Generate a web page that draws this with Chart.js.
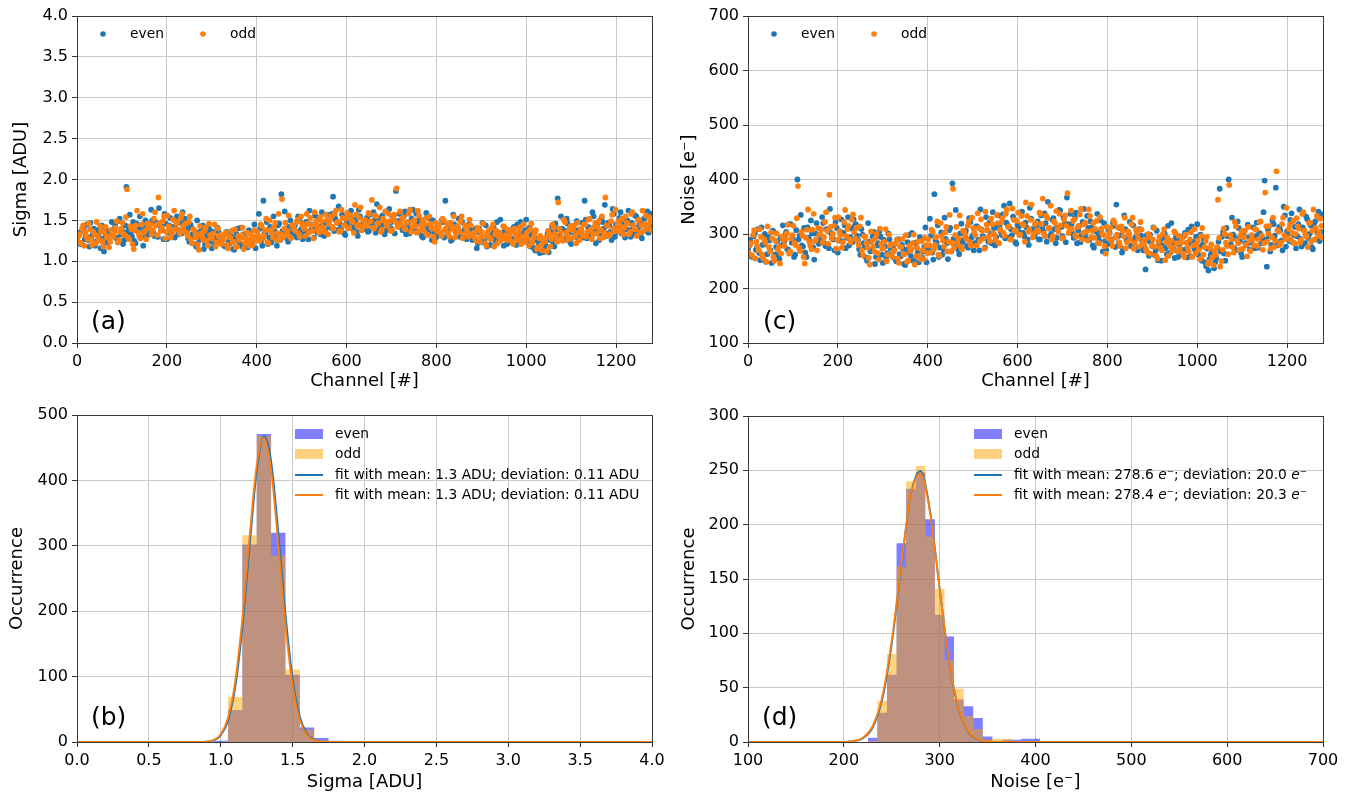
<!DOCTYPE html>
<html>
<head>
<meta charset="utf-8">
<title>Sigma and noise per channel</title>
<script src="https://cdn.jsdelivr.net/npm/chart.js@4.4.1/dist/chart.umd.min.js"></script>
<style>
  body { margin: 0; background: #fff; width: 1352px; height: 798px; position: relative; overflow: hidden; }
  canvas { position: absolute; }
</style>
</head>
<body>
<canvas id="chartA" width="670" height="400" style="left:0;top:0"></canvas>
<canvas id="chartC" width="682" height="400" style="left:670px;top:0"></canvas>
<canvas id="chartB" width="670" height="398" style="left:0;top:400px"></canvas>
<canvas id="chartD" width="682" height="398" style="left:670px;top:400px"></canvas>
<script>
// ---------------------------------------------------------------
// values read off the picture. channel scans are sampled in two passes,
// every 5th channel each (pass B sits between the points of pass A)
// ---------------------------------------------------------------
const channelStep = 5;

const sigmaEven = [
  1.28,1.35,1.22,1.41,1.31,1.26,1.47,1.33,1.19,1.38,1.29,1.44,1.12,1.36,1.25,1.32,
  1.34,1.45,1.29,1.52,1.38,1.26,1.91,1.41,1.33,1.48,1.22,1.39,1.55,1.31,1.43,1.36,
  1.42,1.63,1.35,1.48,1.30,1.45,1.38,1.58,1.27,1.44,1.36,1.51,1.40,1.33,1.47,1.60,
  1.52,1.37,1.24,1.41,1.30,1.18,1.35,1.27,1.44,1.21,1.33,1.39,1.16,1.30,1.25,1.36,
  1.24,1.31,1.18,1.35,1.22,1.28,1.14,1.33,1.25,1.41,1.20,1.29,1.17,1.36,1.26,1.45,
  1.30,1.58,1.25,1.74,1.34,1.21,1.42,1.28,1.37,1.19,1.46,1.82,1.31,1.39,1.24,1.50,
  1.36,1.44,1.29,1.52,1.40,1.33,1.48,1.27,1.45,1.38,1.56,1.35,1.42,1.60,1.31,1.47,
  1.49,1.41,1.79,1.52,1.38,1.46,1.57,1.34,1.50,1.43,1.62,1.39,1.48,1.31,1.55,1.44,
  1.42,1.53,1.37,1.47,1.60,1.35,1.49,1.41,1.56,1.33,1.46,1.64,1.40,1.51,1.86,1.44,
  1.50,1.38,1.61,1.45,1.34,1.52,1.41,1.58,1.36,1.47,1.29,1.44,1.39,1.53,1.26,1.35,
  1.30,1.42,1.35,1.48,1.74,1.33,1.40,1.27,1.45,1.38,1.52,1.31,1.36,1.43,1.29,1.39,
  1.26,1.35,1.16,1.40,1.30,1.23,1.44,1.32,1.20,1.37,1.28,1.48,1.25,1.33,1.19,1.36,
  1.31,1.24,1.39,1.28,1.45,1.22,1.34,1.27,1.51,1.30,1.18,1.36,1.13,1.25,1.10,1.21,
  1.15,1.28,1.11,1.37,1.24,1.46,1.77,1.31,1.40,1.26,1.52,1.35,1.21,1.43,1.30,1.38,
  1.33,1.47,1.74,1.28,1.41,1.36,1.55,1.22,1.39,1.31,1.48,1.69,1.34,1.44,1.26,1.58,
  1.45,1.36,1.60,1.41,1.29,1.50,1.38,1.47,1.33,1.55,1.42,1.31,1.49,1.37,1.61,1.44
];
const sigmaEvenB = [
  1.33,1.21,1.38,1.27,1.45,1.18,1.30,1.40,1.24,1.34,1.16,1.42,1.29,1.23,1.37,1.48,
  1.40,1.28,1.49,1.33,1.21,1.44,1.36,1.57,1.30,1.25,1.46,1.35,1.41,1.19,1.50,1.32,
  1.37,1.50,1.31,1.44,1.65,1.39,1.27,1.46,1.35,1.53,1.42,1.29,1.55,1.38,1.34,1.48,
  1.40,1.28,1.45,1.33,1.21,1.50,1.26,1.39,1.15,1.31,1.43,1.24,1.36,1.20,1.41,1.29,
  1.29,1.19,1.36,1.24,1.31,1.15,1.27,1.40,1.22,1.18,1.33,1.25,1.38,1.21,1.30,1.16,
  1.27,1.40,1.19,1.35,1.48,1.29,1.23,1.55,1.32,1.44,1.26,1.37,1.61,1.28,1.42,1.34,
  1.42,1.31,1.55,1.38,1.27,1.47,1.36,1.62,1.40,1.29,1.44,1.51,1.33,1.46,1.39,1.57,
  1.43,1.58,1.37,1.49,1.67,1.40,1.54,1.32,1.47,1.60,1.42,1.51,1.36,1.63,1.45,1.39,
  1.48,1.36,1.57,1.43,1.50,1.70,1.39,1.53,1.45,1.38,1.62,1.47,1.55,1.34,1.49,1.58,
  1.41,1.55,1.33,1.48,1.40,1.63,1.37,1.46,1.52,1.31,1.44,1.59,1.35,1.42,1.50,1.28,
  1.44,1.33,1.51,1.29,1.39,1.46,1.25,1.57,1.36,1.42,1.30,1.48,1.38,1.27,1.45,1.34,
  1.29,1.40,1.22,1.33,1.47,1.27,1.18,1.36,1.31,1.42,1.24,1.34,1.51,1.28,1.38,1.21,
  1.35,1.27,1.42,1.20,1.33,1.48,1.29,1.38,1.23,1.41,1.32,1.16,1.28,1.19,1.24,1.11,
  1.20,1.34,1.26,1.43,1.18,1.39,1.31,1.55,1.28,1.37,1.46,1.24,1.40,1.33,1.49,1.27,
  1.38,1.29,1.51,1.42,1.33,1.60,1.37,1.45,1.26,1.53,1.40,1.31,1.47,1.36,1.64,1.30,
  1.41,1.53,1.34,1.47,1.39,1.62,1.30,1.44,1.56,1.37,1.48,1.28,1.52,1.43,1.35,1.58
];
const sigmaOdd = [
  1.25,1.33,1.40,1.19,1.30,1.46,1.27,1.36,1.22,1.31,1.43,1.24,1.35,1.29,1.17,1.38,
  1.30,1.41,1.23,1.36,1.47,1.32,1.88,1.27,1.39,1.15,1.44,1.35,1.28,1.58,1.37,1.46,
  1.40,1.33,1.52,1.44,1.78,1.37,1.49,1.28,1.56,1.41,1.35,1.62,1.46,1.38,1.53,1.43,
  1.46,1.31,1.55,1.22,1.38,1.29,1.14,1.34,1.26,1.41,1.19,1.32,1.28,1.45,1.23,1.30,
  1.21,1.27,1.35,1.16,1.29,1.23,1.39,1.18,1.26,1.32,1.15,1.28,1.24,1.33,1.20,1.30,
  1.36,1.25,1.43,1.31,1.52,1.22,1.38,1.29,1.47,1.34,1.26,1.76,1.40,1.33,1.56,1.28,
  1.43,1.37,1.51,1.30,1.46,1.40,1.58,1.35,1.44,1.28,1.49,1.39,1.54,1.42,1.36,1.50,
  1.46,1.55,1.40,1.62,1.48,1.37,1.53,1.44,1.59,1.41,1.50,1.35,1.57,1.45,1.66,1.42,
  1.51,1.44,1.58,1.75,1.40,1.55,1.47,1.36,1.52,1.61,1.43,1.49,1.38,1.57,1.89,1.46,
  1.45,1.54,1.39,1.48,1.63,1.42,1.50,1.35,1.56,1.44,1.38,1.52,1.32,1.46,1.40,1.24,
  1.37,1.45,1.31,1.50,1.40,1.34,1.47,1.39,1.29,1.43,1.36,1.55,1.33,1.41,1.30,1.44,
  1.32,1.28,1.41,1.24,1.36,1.30,1.19,1.38,1.27,1.45,1.33,1.22,1.35,1.29,1.42,1.26,
  1.28,1.37,1.21,1.33,1.26,1.42,1.30,1.24,1.35,1.19,1.46,1.29,1.38,1.17,1.31,1.13,
  1.24,1.12,1.33,1.27,1.41,1.30,1.72,1.36,1.25,1.48,1.32,1.39,1.28,1.44,1.22,1.35,
  1.40,1.31,1.45,1.36,1.52,1.27,1.42,1.34,1.49,1.38,1.29,1.78,1.43,1.33,1.57,1.37,
  1.38,1.49,1.42,1.33,1.55,1.46,1.36,1.60,1.40,1.31,1.51,1.44,1.37,1.56,1.43,1.48
];
const sigmaOddB = [
  1.31,1.22,1.44,1.35,1.27,1.39,1.20,1.33,1.48,1.26,1.37,1.18,1.42,1.30,1.24,1.34,
  1.36,1.49,1.26,1.40,1.33,1.54,1.29,1.43,1.21,1.38,1.62,1.31,1.45,1.35,1.27,1.41,
  1.45,1.38,1.60,1.32,1.47,1.41,1.55,1.36,1.43,1.29,1.51,1.39,1.48,1.34,1.58,1.37,
  1.35,1.48,1.27,1.39,1.33,1.20,1.43,1.30,1.37,1.25,1.46,1.28,1.34,1.18,1.40,1.32,
  1.26,1.33,1.20,1.30,1.37,1.24,1.17,1.31,1.28,1.41,1.22,1.35,1.19,1.27,1.38,1.25,
  1.31,1.45,1.28,1.38,1.23,1.50,1.35,1.42,1.26,1.58,1.33,1.29,1.47,1.37,1.30,1.44,
  1.39,1.48,1.34,1.55,1.42,1.31,1.46,1.53,1.37,1.60,1.44,1.35,1.49,1.40,1.57,1.33,
  1.51,1.42,1.58,1.47,1.36,1.63,1.44,1.52,1.40,1.56,1.48,1.69,1.43,1.53,1.38,1.49,
  1.44,1.59,1.49,1.41,1.56,1.46,1.66,1.39,1.50,1.45,1.58,1.37,1.53,1.48,1.42,1.61,
  1.52,1.40,1.47,1.58,1.36,1.49,1.43,1.62,1.38,1.50,1.45,1.33,1.55,1.41,1.30,1.47,
  1.41,1.35,1.52,1.38,1.46,1.30,1.43,1.55,1.34,1.40,1.49,1.28,1.44,1.37,1.51,1.33,
  1.35,1.25,1.38,1.31,1.46,1.22,1.34,1.29,1.41,1.18,1.37,1.30,1.26,1.43,1.32,1.39,
  1.33,1.24,1.40,1.29,1.36,1.21,1.45,1.31,1.27,1.39,1.23,1.34,1.15,1.28,1.20,1.26,
  1.29,1.37,1.18,1.45,1.33,1.24,1.40,1.29,1.51,1.35,1.27,1.43,1.38,1.31,1.47,1.26,
  1.36,1.45,1.30,1.51,1.39,1.33,1.47,1.42,1.28,1.55,1.35,1.44,1.31,1.49,1.40,1.63,
  1.45,1.36,1.52,1.41,1.47,1.33,1.58,1.44,1.39,1.50,1.35,1.62,1.46,1.40,1.54,1.38
];

const noiseEven = [
  272,289,258,301,276,265,312,281,249,295,270,306,262,287,254,279,
  285,304,271,318,290,262,400,297,279,311,258,293,325,276,301,288,
  296,331,283,309,274,302,290,322,266,305,287,316,293,279,310,327,
  318,289,262,299,276,251,286,270,304,258,283,295,247,277,265,290,
  262,281,250,290,259,273,243,285,266,302,255,276,248,291,268,312,
  277,328,266,373,284,258,303,272,291,254,311,393,279,296,263,319,
  289,306,275,322,297,283,314,270,308,292,331,286,301,340,279,312,
  314,298,352,321,293,309,332,285,317,303,341,296,312,280,328,305,
  302,323,290,313,338,286,310,300,329,283,311,343,296,318,367,314,
  318,293,339,307,285,322,299,333,289,312,275,305,296,325,268,287,
  281,302,290,315,354,284,298,272,309,293,322,279,290,306,275,297,
  270,235,288,299,278,262,306,283,251,293,274,315,266,285,256,290,
  279,263,296,272,308,259,286,271,318,277,251,290,241,233,262,268,
  248,275,383,295,264,311,400,281,299,270,323,287,258,306,279,294,
  284,312,296,275,301,288,398,240,296,280,318,385,285,307,270,334,
  305,287,338,298,274,318,291,312,283,327,300,276,316,290,341,304
];
const noiseEvenB = [
  285,259,296,271,309,252,280,300,263,288,247,304,276,261,293,316,
  298,272,318,284,258,307,290,335,277,266,312,287,301,253,320,282,
  291,320,278,306,346,297,270,311,288,327,302,274,331,294,285,315,
  297,272,309,283,257,320,268,295,245,279,305,262,289,256,301,274,
  275,254,290,263,280,245,271,298,260,251,284,266,294,257,277,248,
  270,297,253,288,316,275,262,330,283,307,268,291,344,272,301,285,
  300,278,329,293,270,314,289,345,296,275,307,321,283,311,294,334,
  305,336,292,317,356,298,327,282,313,340,302,321,290,348,309,296,
  315,290,334,305,320,359,296,326,309,293,344,313,330,285,318,337,
  301,330,283,315,298,346,292,311,323,279,306,337,288,302,320,271,
  307,283,321,276,296,311,266,334,289,303,278,316,294,270,309,286,
  276,298,260,283,312,270,252,289,279,301,263,285,320,273,294,258,
  287,271,302,257,283,314,276,295,262,299,281,248,273,254,265,237,
  256,286,268,304,251,296,279,330,274,292,311,265,299,283,317,271,
  293,274,321,301,283,340,290,308,268,325,297,279,313,288,350,277,
  300,326,285,313,296,345,277,307,332,292,316,272,323,304,287,336
];
const noiseOdd = [
  266,283,298,255,278,309,262,290,249,276,303,258,287,271,246,295,
  278,301,264,292,315,280,388,269,297,246,308,286,272,337,290,311,
  300,284,322,306,372,292,315,273,331,298,285,344,309,290,326,303,
  311,280,330,261,294,275,244,287,268,300,253,282,274,309,262,279,
  258,270,289,247,276,263,298,251,269,283,244,275,260,287,254,279,
  290,266,304,280,323,260,296,277,313,286,268,383,298,284,334,272,
  304,291,322,279,311,298,338,287,306,273,317,295,328,301,289,320,
  308,329,297,345,314,290,326,305,339,299,318,286,333,309,354,301,
  320,305,337,365,296,329,311,290,323,342,304,316,293,334,375,310,
  309,327,295,315,346,302,321,288,333,306,293,324,283,310,298,264,
  292,311,278,320,299,285,314,296,274,305,290,330,283,301,277,308,
  281,272,300,264,290,277,255,295,270,309,285,260,288,275,302,268,
  273,292,258,284,268,303,279,264,288,254,311,276,295,249,281,243,
  262,363,240,271,300,278,390,290,266,314,283,297,273,306,259,288,
  298,279,308,290,323,271,376,286,315,294,276,415,305,284,330,291,
  293,317,302,283,329,310,289,340,298,276,321,306,290,333,304,315
];
const noiseOddB = [
  279,261,307,286,270,295,256,284,314,268,292,251,301,277,264,289,
  290,317,268,298,283,329,274,304,258,293,345,279,308,287,270,299,
  309,294,340,282,313,300,330,289,305,275,322,296,315,285,336,292,
  288,314,270,296,283,256,305,277,292,265,310,273,286,250,299,281,
  268,282,255,277,291,263,249,278,272,299,259,286,254,270,293,265,
  279,308,272,294,262,320,288,303,268,335,284,275,313,292,277,306,
  296,315,285,330,303,279,311,327,292,341,307,287,318,298,335,283,
  321,302,337,313,290,347,307,324,298,333,316,358,305,326,294,318,
  307,339,318,301,333,311,352,296,320,309,337,292,326,315,302,343,
  324,298,313,336,290,318,305,345,294,320,309,283,331,300,278,313,
  301,288,325,294,312,278,306,330,285,298,318,273,309,292,322,284,
  289,267,295,279,311,260,286,275,300,252,293,278,269,305,283,297,
  284,264,299,275,290,258,309,280,271,296,262,287,245,274,257,268,
  276,293,250,310,284,263,298,276,322,288,271,305,294,280,313,269,
  290,309,278,322,297,283,314,301,273,330,288,307,280,318,298,348,
  309,289,324,300,314,284,337,306,295,320,286,345,311,297,328,293
];

// histograms: bin edges (one more than counts) and counts
const sigmaBinEdges   = [0.95, 1.05, 1.15, 1.25, 1.35, 1.45, 1.55, 1.65, 1.75, 1.85, 1.95];
const sigmaEvenCounts = [2,    49,   302,  471,  320,  103,  22,   6,    2,    0];
const sigmaOddCounts  = [0,    69,   316,  468,  285,  111,  19,   3,    1,    1];

const noiseBinEdges   = [225,235,245,255,265,275,285,295,305,315,325,335,345,355,365,375,385,395,405];
const noiseEvenCounts = [4,  27, 62, 183,233,248,205,117,97, 39, 33, 22, 5,  1,  2,  2,  3,  3];
const noiseOddCounts  = [1,  38, 81, 161,240,254,189,141,75, 49, 24, 12, 2,  3,  3,  1,  0,  0];

// gaussian fits, sampled off the curves
const sigmaFitX    = [0, 0.8, 0.9, 0.95, 1.0, 1.05, 1.1, 1.15, 1.2, 1.25, 1.3, 1.35, 1.4, 1.45, 1.5, 1.55, 1.6, 1.65, 1.7, 1.8, 4.0];
const sigmaFitEven = [0, 0.01, 0.5, 2.6, 10.0, 31.9, 82.3, 173.4, 296.7, 413.0, 467.5, 430.4, 322.3, 196.3, 97.2, 39.2, 12.8, 3.4, 0.7, 0.02, 0];
const sigmaFitOdd  = [0, 0.02, 0.7, 3.1, 11.9, 36.6, 92.0, 188.2, 312.7, 422.8, 464.9, 415.9, 302.6, 178.9, 86.1, 33.7, 10.7, 2.8, 0.6, 0.01, 0];

const noiseFitX    = [100, 180, 190, 200, 210, 220, 230, 240, 250, 260, 270, 280, 290, 300, 310, 320, 330, 340, 350, 360, 370, 700];
const noiseFitEven = [0, 0, 0.01, 0.11, 0.7, 3.4, 13.1, 38.8, 90.0, 162.3, 227.9, 249.4, 212.5, 141.0, 72.9, 29.4, 9.2, 2.25, 0.43, 0.06, 0.01, 0];
const noiseFitOdd  = [0, 0, 0.02, 0.14, 0.85, 4.0, 14.5, 41.4, 93.2, 164.5, 227.7, 247.2, 210.7, 140.8, 73.8, 30.4, 9.8, 2.5, 0.5, 0.08, 0.01, 0];

// tick values
const channelTicks    = [0, 200, 400, 600, 800, 1000, 1200];
const sigmaTicks      = [0, 0.5, 1.0, 1.5, 2.0, 2.5, 3.0, 3.5, 4.0];
const noiseTicks      = [100, 200, 300, 400, 500, 600, 700];
const sigmaCountTicks = [0, 100, 200, 300, 400, 500];
const noiseCountTicks = [0, 50, 100, 150, 200, 250, 300];

// legend text
const seriesNames = ['even', 'odd'];
const sigmaFitLabels = ['fit with mean: 1.3 ADU; deviation: 0.11 ADU', 'fit with mean: 1.3 ADU; deviation: 0.11 ADU'];
const noiseFitLabels = ['fit with mean: 278.6 $e$\u207B; deviation: 20.0 $e$\u207B', 'fit with mean: 278.4 $e$\u207B; deviation: 20.3 $e$\u207B'];

// ---------------------------------------------------------------
const FONT = '"DejaVu Sans", "Liberation Sans", sans-serif';
const blue = '#1f77b4', orange = '#ff7f0e';
const histBlue = 'rgba(0,0,255,0.5)', histOrange = 'rgba(255,165,0,0.5)';
const gridColor = '#c9c9c9';

Chart.defaults.font.family = FONT;
Chart.defaults.color = '#000';

const toPoints = (vals, offset) => vals.map((v, i) => ({ x: i * channelStep + offset, y: v }));
const zip = (xs, ys) => xs.map((x, i) => ({ x: x, y: ys[i] }));
// histogram outline: a point on each left edge, closing point on the last edge
const histPoints = (edges, counts) => counts.map((c, i) => ({ x: edges[i], y: c })).concat([{ x: edges[edges.length - 1], y: 0 }]);
const oneDec = v => Number(v).toFixed(1);
const plain = v => String(v);

// linear axis with fixed box size so the plot areas line up like the figure
function axis(o) {
  return {
    type: 'linear',
    min: o.min,
    max: o.max,
    offset: false,
    afterFit: s => { if (s.isHorizontal()) s.height = o.size; else s.width = o.size; },
    afterBuildTicks: s => { s.ticks = o.ticks.map(v => ({ value: v })); },
    ticks: { font: { size: 16 }, color: '#000', padding: 4, maxRotation: 0, autoSkip: false, callback: o.fmt },
    grid: { color: gridColor, lineWidth: 1, tickLength: 5, tickColor: '#333', tickWidth: 1, offset: false },
    border: { display: false },
    title: { display: true, text: o.title, font: { size: 18 }, color: '#000', padding: o.pad }
  };
}

// draws spines, panel tag and the in-axes legend
function decor(cfg) {
  return {
    id: 'decor',
    afterDatasetsDraw(chart) {
      const ctx = chart.ctx, a = chart.chartArea;
      ctx.save();
      ctx.strokeStyle = '#3a3a3a';
      ctx.lineWidth = 1;
      ctx.strokeRect(a.left + 0.5, a.top + 0.5, a.right - a.left, a.bottom - a.top);

      ctx.fillStyle = '#000';
      ctx.textAlign = 'left';
      ctx.textBaseline = 'middle';
      ctx.font = '25px ' + FONT;
      ctx.fillText(cfg.tag[0], cfg.tag[1], cfg.tag[2]);

      cfg.items.forEach(it => {
        if (it.kind === 'dot') {
          ctx.fillStyle = it.color;
          ctx.beginPath();
          ctx.arc(it.x, it.y, 2.8, 0, Math.PI * 2);
          ctx.fill();
        } else if (it.kind === 'patch') {
          ctx.fillStyle = it.color;
          ctx.fillRect(it.x, it.y - 5, 28, 10);
        } else {
          ctx.strokeStyle = it.color;
          ctx.lineWidth = 2;
          ctx.beginPath();
          ctx.moveTo(it.x, it.y);
          ctx.lineTo(it.x + 28, it.y);
          ctx.stroke();
        }
        // text, parts wrapped in $..$ are italic (math e)
        let x = it.tx;
        ctx.fillStyle = '#000';
        it.text.split('$').forEach((part, k) => {
          ctx.font = (k % 2 ? 'oblique ' : '') + '13.8px ' + FONT;
          ctx.fillText(part, x, it.y);
          x += ctx.measureText(part).width;
        });
      });
      ctx.restore();
    }
  };
}

function scatterPanel(id, s, yo, tag, legendX) {
  const dot = { borderWidth: 0, pointRadius: 2.9 };
  return new Chart(document.getElementById(id), {
    type: 'scatter',
    data: {
      datasets: [
        Object.assign({ label: seriesNames[0], data: toPoints(s.even, 0).concat(toPoints(s.evenB, 2.5)), backgroundColor: blue, order: 1 }, dot),
        Object.assign({ label: seriesNames[1], data: toPoints(s.odd, 1.25).concat(toPoints(s.oddB, 3.75)), backgroundColor: orange, order: 0 }, dot)
      ]
    },
    options: {
      responsive: false,
      animation: false,
      devicePixelRatio: 1,
      layout: { padding: { top: 16, right: yo.right, left: 0, bottom: 0 } },
      plugins: { legend: { display: false }, tooltip: { enabled: false } },
      scales: {
        x: axis({ min: 0, max: 1280, ticks: channelTicks, fmt: plain, size: 57, title: 'Channel [#]', pad: { top: 0, bottom: 8 } }),
        y: axis({ min: yo.min, max: yo.max, ticks: yo.ticks, fmt: yo.fmt, size: yo.width, title: yo.title, pad: { top: yo.tpad, bottom: 0 } })
      }
    },
    plugins: [decor({
      tag: tag,
      items: [
        { kind: 'dot', color: blue, x: legendX, y: 34, tx: legendX + 27, text: seriesNames[0] },
        { kind: 'dot', color: orange, x: legendX + 100, y: 34, tx: legendX + 127, text: seriesNames[1] }
      ]
    })]
  });
}

function histPanel(id, h, tag, legendX) {
  const barStyle = { stepped: 'before', fill: 'origin', pointRadius: 0, borderWidth: 0, borderColor: 'transparent' };
  const lineStyle = { pointRadius: 0, borderWidth: 1.8, fill: false, cubicInterpolationMode: 'monotone' };
  return new Chart(document.getElementById(id), {
    type: 'line',
    data: {
      datasets: [
        Object.assign({ label: seriesNames[0], data: histPoints(h.edges, h.even), backgroundColor: histBlue, order: 3 }, barStyle),
        Object.assign({ label: seriesNames[1], data: histPoints(h.edges, h.odd), backgroundColor: histOrange, order: 2 }, barStyle),
        Object.assign({ label: h.fitLabels[0], data: zip(h.fitX, h.fitEven), borderColor: blue, order: 1 }, lineStyle),
        Object.assign({ label: h.fitLabels[1], data: zip(h.fitX, h.fitOdd), borderColor: orange, order: 0 }, lineStyle)
      ]
    },
    options: {
      responsive: false,
      animation: false,
      devicePixelRatio: 1,
      layout: { padding: { top: h.top, right: h.right, left: 0, bottom: 0 } },
      plugins: { legend: { display: false }, tooltip: { enabled: false } },
      scales: {
        x: axis({ min: h.xmin, max: h.xmax, ticks: h.xticks, fmt: h.xfmt, size: 56, title: h.xtitle, pad: { top: 0, bottom: 5 } }),
        y: axis({ min: 0, max: h.ymax, ticks: h.yticks, fmt: plain, size: h.width, title: 'Occurrence', pad: { top: h.tpad, bottom: 0 } })
      }
    },
    plugins: [decor({
      tag: tag,
      items: [
        { kind: 'patch', color: histBlue, x: legendX, y: 34, tx: legendX + 40, text: seriesNames[0] },
        { kind: 'patch', color: histOrange, x: legendX, y: 54, tx: legendX + 40, text: seriesNames[1] },
        { kind: 'line', color: blue, x: legendX, y: 75, tx: legendX + 40, text: h.fitLabels[0] },
        { kind: 'line', color: orange, x: legendX, y: 95, tx: legendX + 40, text: h.fitLabels[1] }
      ]
    })]
  });
}

// (a) sigma per channel
scatterPanel('chartA', { even: sigmaEven, evenB: sigmaEvenB, odd: sigmaOdd, oddB: sigmaOddB },
  { min: 0, max: 4, ticks: sigmaTicks, fmt: oneDec, width: 77, right: 18, title: 'Sigma [ADU]', tpad: 11 },
  ['(a)', 91, 322], 103);

// (c) noise per channel
scatterPanel('chartC', { even: noiseEven, evenB: noiseEvenB, odd: noiseOdd, oddB: noiseOddB },
  { min: 100, max: 700, ticks: noiseTicks, fmt: plain, width: 78, right: 29, title: 'Noise [e\u207B]', tpad: 9 },
  ['(c)', 93, 322], 104);

// (b) sigma histogram
histPanel('chartB', {
  edges: sigmaBinEdges, even: sigmaEvenCounts, odd: sigmaOddCounts,
  fitX: sigmaFitX, fitEven: sigmaFitEven, fitOdd: sigmaFitOdd, fitLabels: sigmaFitLabels,
  xmin: 0, xmax: 4, xticks: sigmaTicks, xfmt: oneDec, xtitle: 'Sigma [ADU]',
  ymax: 500, yticks: sigmaCountTicks, width: 77, right: 18, top: 15, tpad: 7
}, ['(b)', 91, 318], 295);

// (d) noise histogram
histPanel('chartD', {
  edges: noiseBinEdges, even: noiseEvenCounts, odd: noiseOddCounts,
  fitX: noiseFitX, fitEven: noiseFitEven, fitOdd: noiseFitOdd, fitLabels: noiseFitLabels,
  xmin: 100, xmax: 700, xticks: noiseTicks, xfmt: plain, xtitle: 'Noise [e\u207B]',
  ymax: 300, yticks: noiseCountTicks, width: 78, right: 29, top: 16, tpad: 9
}, ['(d)', 92, 318], 304);
</script>
</body>
</html>
